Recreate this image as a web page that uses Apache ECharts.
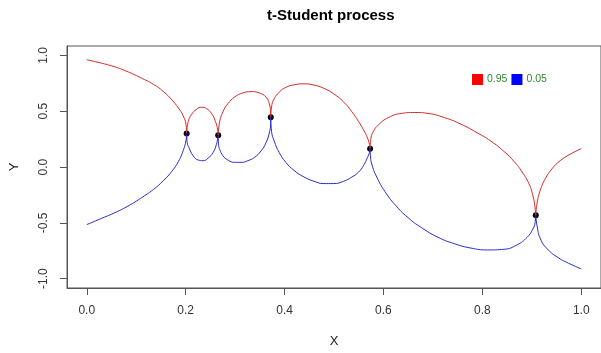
<!DOCTYPE html>
<html>
<head>
<meta charset="utf-8">
<script src="https://cdn.jsdelivr.net/npm/echarts@6/dist/echarts.min.js"></script>
<style>
html,body{margin:0;padding:0;background:#fff;}
#chart{width:601px;height:353px;}
</style>
</head>
<body>
<div id="chart"></div>
<script>
// observed points
const obsX = [0.2020, 0.2658, 0.3721, 0.5731, 0.9081];
const obsY = [0.300, 0.285, 0.4455, 0.165, -0.433];

// 0.95 quantile curve
const upperX = [0, 0.0281, 0.0548, 0.0816, 0.1083, 0.1350, 0.1551, 0.1719, 0.1852, 0.1952, 0.2006,
  0.2052, 0.2120, 0.2221, 0.2321, 0.2421, 0.2522, 0.2602, 0.2648,
  0.2688, 0.2754, 0.2855, 0.2989, 0.3155, 0.3324, 0.3490, 0.3625, 0.3691, 0.3717,
  0.3737, 0.3791, 0.3892, 0.4026, 0.4193, 0.4393, 0.4594, 0.4794, 0.4995, 0.5196, 0.5362, 0.5497, 0.5597, 0.5677, 0.5717,
  0.5743, 0.5797, 0.5898, 0.6098, 0.6365, 0.6634, 0.6901, 0.7236, 0.7569, 0.7904, 0.8171, 0.8440, 0.8640, 0.8806, 0.8941, 0.9027, 0.9067,
  0.9107, 0.9174, 0.9274, 0.9408, 0.9575, 0.9775, 1.0];
const upperY = [0.962, 0.933, 0.901, 0.857, 0.802, 0.741, 0.676, 0.603, 0.530, 0.457, 0.384,
  0.408, 0.472, 0.518, 0.536, 0.524, 0.481, 0.408, 0.334,
  0.408, 0.495, 0.568, 0.627, 0.664, 0.676, 0.664, 0.627, 0.568, 0.495,
  0.539, 0.612, 0.671, 0.714, 0.737, 0.746, 0.735, 0.706, 0.656, 0.583, 0.495, 0.408, 0.334, 0.261, 0.203,
  0.247, 0.320, 0.378, 0.443, 0.481, 0.489, 0.481, 0.443, 0.384, 0.305, 0.233, 0.139, 0.051, -0.045, -0.148, -0.264, -0.367,
  -0.323, -0.205, -0.104, -0.016, 0.057, 0.115, 0.165];

// 0.05 quantile curve
const lowerX = [0, 0.0281, 0.0548, 0.0816, 0.1083, 0.1350, 0.1551, 0.1719, 0.1852, 0.1952, 0.2006,
  0.2032, 0.2066, 0.2152, 0.2253, 0.2353, 0.2453, 0.2554, 0.2622, 0.2648,
  0.2668, 0.2688, 0.2754, 0.2855, 0.2989, 0.3123, 0.3256, 0.3390, 0.3525, 0.3625, 0.3691, 0.3717,
  0.3737, 0.3791, 0.3892, 0.4026, 0.4193, 0.4393, 0.4594, 0.4794, 0.4995, 0.5196, 0.5362, 0.5497, 0.5597, 0.5677, 0.5717,
  0.5737, 0.5763, 0.5864, 0.6032, 0.6233, 0.6499, 0.6766, 0.7101, 0.7436, 0.7769, 0.8104, 0.8440, 0.8706, 0.8907, 0.9021, 0.9067,
  0.9107, 0.9174, 0.9308, 0.9509, 0.9743, 1.0];
const lowerY = [-0.516, -0.463, -0.413, -0.354, -0.282, -0.200, -0.121, -0.039, 0.049, 0.150, 0.238,
  0.218, 0.174, 0.101, 0.063, 0.057, 0.080, 0.130, 0.203, 0.261,
  0.191, 0.159, 0.101, 0.063, 0.042, 0.042, 0.057, 0.086, 0.145, 0.218, 0.305, 0.378,
  0.320, 0.233, 0.130, 0.042, -0.030, -0.089, -0.127, -0.148, -0.148, -0.127, -0.089, -0.045, 0.014, 0.086, 0.130,
  0.104, 0.028, -0.089, -0.220, -0.337, -0.454, -0.542, -0.629, -0.687, -0.726, -0.743, -0.737, -0.696, -0.629, -0.556, -0.498,
  -0.527, -0.643, -0.731, -0.805, -0.862, -0.912];

const xTicks = [0, 0.2, 0.4, 0.6, 0.8, 1.0];
const yTicks = [-1, -0.5, 0, 0.5, 1];
const legendNames = ['0.95', '0.05'];

// build curve data: pass through each observed point with a break (cusp)
function buildCurve(xs, ys) {
  const out = [];
  let k = 0;
  for (let i = 0; i < xs.length; i++) {
    while (k < obsX.length && xs[i] > obsX[k]) {
      out.push([obsX[k], obsY[k]]);
      out.push([obsX[k], '-']);
      out.push([obsX[k], obsY[k]]);
      k++;
    }
    out.push([xs[i], ys[i]]);
  }
  return out;
}

const chart = echarts.init(document.getElementById('chart'), null, {renderer: 'canvas'});
const FONT = 'Liberation Sans, Arial, sans-serif';
const lineCol = '#555';
chart.setOption({
  animation: false,
  backgroundColor: '#fff',
  title: {
    text: 't-Student process',
    left: 267, top: 8, padding: 0,
    textStyle: {fontFamily: FONT, fontSize: 15, fontWeight: 'bold', color: '#000'}
  },
  legend: {
    data: [
      {name: legendNames[0], itemStyle: {color: '#ff0000'}},
      {name: legendNames[1], itemStyle: {color: '#0000ff'}}
    ],
    icon: 'rect', itemWidth: 11, itemHeight: 11, itemGap: 4,
    left: 472, top: 74, padding: 0, selectedMode: false,
    textStyle: {fontFamily: FONT, fontSize: 10.5, color: '#2e8b2e', padding: [0, 0, 0, -1]}
  },
  grid: {
    left: 66, right: -3.4, top: 46, bottom: 59.5,
    show: true, borderColor: lineCol, borderWidth: 1, backgroundColor: 'transparent'
  },
  xAxis: {
    type: 'value', min: -0.04, max: 1.04,
    name: 'X', nameLocation: 'middle', nameGap: 47,
    nameTextStyle: {fontFamily: FONT, fontSize: 13, color: '#222'},
    axisLine: {show: true, onZero: false, lineStyle: {color: lineCol}},
    axisTick: {show: true, customValues: xTicks, length: 7, lineStyle: {color: lineCol}},
    axisLabel: {customValues: xTicks, margin: 17, fontFamily: FONT, fontSize: 12, color: '#333',
      formatter: v => v.toFixed(1)},
    splitLine: {show: false}
  },
  yAxis: {
    type: 'value', min: -1.084, max: 1.085,
    name: 'Y', nameLocation: 'middle', nameGap: 46, nameRotate: 90,
    nameTextStyle: {fontFamily: FONT, fontSize: 13, color: '#222'},
    axisLine: {show: true, onZero: false, lineStyle: {color: lineCol}},
    axisTick: {show: true, customValues: yTicks, length: 7, lineStyle: {color: lineCol}},
    axisLabel: {customValues: yTicks, margin: 17, rotate: 90, fontFamily: FONT, fontSize: 12, color: '#333',
      formatter: v => v.toFixed(1)},
    splitLine: {show: false}
  },
  series: [
    {
      name: legendNames[0], type: 'line', data: buildCurve(upperX, upperY),
      showSymbol: false, smooth: 0.5, connectNulls: false,
      lineStyle: {color: '#d42a2a', width: 1}, itemStyle: {color: '#d42a2a'}
    },
    {
      name: legendNames[1], type: 'line', data: buildCurve(lowerX, lowerY),
      showSymbol: false, smooth: 0.5, connectNulls: false,
      lineStyle: {color: '#2a2ac8', width: 1}, itemStyle: {color: '#2a2ac8'}
    },
    {
      name: 'obs', type: 'scatter', data: obsX.map((x, i) => [x, obsY[i]]),
      symbolSize: 6, itemStyle: {color: '#000', opacity: 1}
    }
  ]
});
</script>
</body>
</html>
